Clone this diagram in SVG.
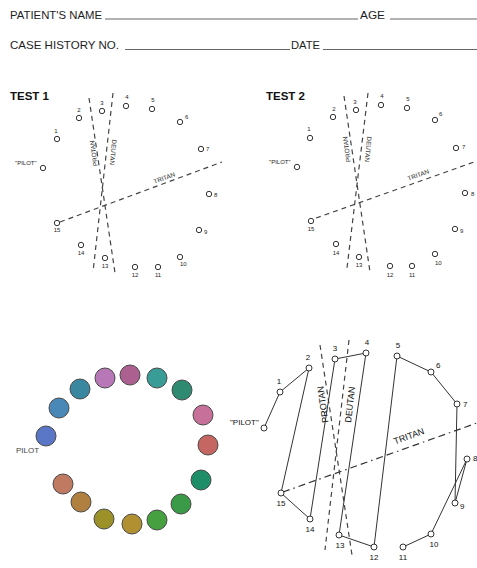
<svg xmlns="http://www.w3.org/2000/svg" width="477" height="568" viewBox="0 0 477 568">
  <style>
    text { font-family: "Liberation Sans", Arial, sans-serif; fill: #1e1e1e; }
    .hdr { font-size: 11.5px; }
    .rule { stroke: #555; stroke-width: 0.9; }
    .title { font-size: 11px; font-weight: bold; fill: #111; }
    .sm { font-size: 6px; text-anchor: middle; }
    .sml { font-size: 6px; }
    .axis { font-size: 6.3px; }
    .cap { stroke: #333; stroke-width: 1; fill: #fff; }
    .dash { stroke: #444; stroke-width: 1.2; fill: none; stroke-dasharray: 5 4; }
    .dashdot { stroke: #333; stroke-width: 1.2; fill: none; stroke-dasharray: 7 4 1.5 4 7 4; }
    .chip { stroke: #4a4a4a; stroke-width: 1; }
    .md { font-size: 8px; text-anchor: middle; fill: #111; }
    .mdl { font-size: 8px; fill: #111; }
    .path { stroke: #333; stroke-width: 1; fill: none; }
  </style>

  <!-- form header -->
  <g id="header">
    <text class="hdr" x="10" y="18.5" textLength="92" lengthAdjust="spacingAndGlyphs">PATIENT'S NAME</text>
    <line class="rule" x1="105" y1="19" x2="358" y2="19"/>
    <text class="hdr" x="360" y="18.5" textLength="25" lengthAdjust="spacingAndGlyphs">AGE</text>
    <line class="rule" x1="390" y1="19" x2="477" y2="19"/>
    <text class="hdr" x="10" y="49" textLength="109" lengthAdjust="spacingAndGlyphs">CASE HISTORY NO.</text>
    <line class="rule" x1="125" y1="49.5" x2="290" y2="49.5"/>
    <text class="hdr" x="291" y="49" textLength="29" lengthAdjust="spacingAndGlyphs">DATE</text>
    <line class="rule" x1="323" y1="49.5" x2="477" y2="49.5"/>
  </g>

  <!-- TEST 1 score sheet -->
  <g id="test1">
    <text class="title" x="10" y="100" textLength="39" lengthAdjust="spacingAndGlyphs">TEST 1</text>
    <g id="test1-axes">
      <line class="dash" x1="89" y1="98" x2="115" y2="273"/>
      <line class="dash" x1="113" y1="93" x2="93" y2="272"/>
      <line class="dash" x1="60" y1="222" x2="222" y2="162"/>
      <text class="axis" transform="translate(96,153) rotate(-98)" text-anchor="middle">PROTAN</text>
      <text class="axis" transform="translate(111,152) rotate(96)" text-anchor="middle">DEUTAN</text>
      <text class="axis" transform="translate(165,180) rotate(-20)" text-anchor="middle">TRITAN</text>
    </g>
    <g id="test1-caps">
      <circle class="cap" cx="43" cy="168" r="2.7"/>
      <circle class="cap" cx="57" cy="139" r="2.7"/>
      <circle class="cap" cx="79" cy="118" r="2.7"/>
      <circle class="cap" cx="102" cy="111" r="2.7"/>
      <circle class="cap" cx="126" cy="106" r="2.7"/>
      <circle class="cap" cx="152" cy="109" r="2.7"/>
      <circle class="cap" cx="180" cy="122" r="2.7"/>
      <circle class="cap" cx="201" cy="149" r="2.7"/>
      <circle class="cap" cx="209" cy="194" r="2.7"/>
      <circle class="cap" cx="199" cy="230" r="2.7"/>
      <circle class="cap" cx="180" cy="257" r="2.7"/>
      <circle class="cap" cx="158" cy="267" r="2.7"/>
      <circle class="cap" cx="135" cy="267" r="2.7"/>
      <circle class="cap" cx="105" cy="258" r="2.7"/>
      <circle class="cap" cx="81" cy="245" r="2.7"/>
      <circle class="cap" cx="57" cy="223" r="2.7"/>
    </g>
    <g id="test1-labels">
      <text class="sml" x="15" y="165">"PILOT"</text>
      <text class="sm" x="56" y="133">1</text>
      <text class="sm" x="79" y="112">2</text>
      <text class="sm" x="102" y="105">3</text>
      <text class="sm" x="127" y="99">4</text>
      <text class="sm" x="153" y="102">5</text>
      <text class="sml" x="185" y="119">6</text>
      <text class="sml" x="206" y="151">7</text>
      <text class="sml" x="214" y="197">8</text>
      <text class="sml" x="204" y="234">9</text>
      <text class="sml" x="180" y="266">10</text>
      <text class="sm" x="158" y="277">11</text>
      <text class="sm" x="135" y="277">12</text>
      <text class="sm" x="105" y="268">13</text>
      <text class="sm" x="81" y="255">14</text>
      <text class="sm" x="57" y="232">15</text>
    </g>
  </g>

  <!-- TEST 2 score sheet -->
  <g id="test2">
    <text class="title" x="266" y="100" textLength="39" lengthAdjust="spacingAndGlyphs">TEST 2</text>
    <g id="test2-axes">
      <line class="dash" x1="344" y1="96" x2="370" y2="272"/>
      <line class="dash" x1="368" y1="93" x2="347" y2="268"/>
      <line class="dash" x1="316" y1="218" x2="477" y2="161"/>
      <text class="axis" transform="translate(349,149) rotate(-98)" text-anchor="middle">PROTAN</text>
      <text class="axis" transform="translate(366,149) rotate(96)" text-anchor="middle">DEUTAN</text>
      <text class="axis" transform="translate(419,177) rotate(-20)" text-anchor="middle">TRITAN</text>
    </g>
    <g id="test2-caps">
      <circle class="cap" cx="297" cy="167" r="2.7"/>
      <circle class="cap" cx="310" cy="138" r="2.7"/>
      <circle class="cap" cx="333" cy="117" r="2.7"/>
      <circle class="cap" cx="356" cy="110" r="2.7"/>
      <circle class="cap" cx="381" cy="105" r="2.7"/>
      <circle class="cap" cx="407" cy="108" r="2.7"/>
      <circle class="cap" cx="435" cy="120" r="2.7"/>
      <circle class="cap" cx="456" cy="148" r="2.7"/>
      <circle class="cap" cx="465" cy="193" r="2.7"/>
      <circle class="cap" cx="455" cy="229" r="2.7"/>
      <circle class="cap" cx="435" cy="254" r="2.7"/>
      <circle class="cap" cx="412" cy="266" r="2.7"/>
      <circle class="cap" cx="390" cy="266" r="2.7"/>
      <circle class="cap" cx="359" cy="257" r="2.7"/>
      <circle class="cap" cx="336" cy="244" r="2.7"/>
      <circle class="cap" cx="311" cy="221" r="2.7"/>
    </g>
    <g id="test2-labels">
      <text class="sml" x="269" y="164">"PILOT"</text>
      <text class="sm" x="309" y="131">1</text>
      <text class="sm" x="334" y="111">2</text>
      <text class="sm" x="355" y="104">3</text>
      <text class="sm" x="382" y="98">4</text>
      <text class="sm" x="408" y="101">5</text>
      <text class="sml" x="439" y="116">6</text>
      <text class="sml" x="462" y="149">7</text>
      <text class="sml" x="471" y="196">8</text>
      <text class="sml" x="460" y="233">9</text>
      <text class="sml" x="435" y="265">10</text>
      <text class="sm" x="412" y="277">11</text>
      <text class="sm" x="390" y="277">12</text>
      <text class="sm" x="359" y="267">13</text>
      <text class="sm" x="336" y="255">14</text>
      <text class="sm" x="311" y="231">15</text>
    </g>
  </g>

  <!-- coloured cap ring -->
  <g id="cap-ring">
    <circle class="chip" cx="46" cy="436" r="10" fill="#5a76c6"/>
    <circle class="chip" cx="59" cy="408" r="10" fill="#4a88b8"/>
    <circle class="chip" cx="80" cy="389" r="10" fill="#3a88a0"/>
    <circle class="chip" cx="105" cy="378" r="10" fill="#b878b8"/>
    <circle class="chip" cx="130" cy="375" r="10" fill="#ac6090"/>
    <circle class="chip" cx="157" cy="378" r="10" fill="#3a9c96"/>
    <circle class="chip" cx="182" cy="390" r="10" fill="#2e8a70"/>
    <circle class="chip" cx="203" cy="415" r="10" fill="#c6709a"/>
    <circle class="chip" cx="208" cy="445" r="10" fill="#c66662"/>
    <circle class="chip" cx="201" cy="480" r="10" fill="#1e8e68"/>
    <circle class="chip" cx="181" cy="504" r="10" fill="#3a9a48"/>
    <circle class="chip" cx="157" cy="520" r="10" fill="#46a040"/>
    <circle class="chip" cx="132" cy="524" r="10" fill="#b09030"/>
    <circle class="chip" cx="104" cy="519" r="10" fill="#9c9028"/>
    <circle class="chip" cx="81" cy="502" r="10" fill="#b08040"/>
    <circle class="chip" cx="63" cy="484" r="10" fill="#c07a62"/>
    <text class="mdl" x="16" y="453" style="fill:#444">PILOT</text>
  </g>

  <!-- worked example of a scored arrangement -->
  <g id="example">
    <g id="example-axes">
      <line class="dash" x1="320" y1="345" x2="352" y2="555"/>
      <line class="dash" x1="349" y1="340" x2="325" y2="550"/>
      <line class="dashdot" x1="283" y1="492" x2="477" y2="423"/>
      <text class="mdl" transform="translate(326,404) rotate(-98)" text-anchor="middle" style="font-size:9px">PROTAN</text>
      <text class="mdl" transform="translate(353,405) rotate(-83.5)" text-anchor="middle" style="font-size:9px">DEUTAN</text>
      <text class="mdl" transform="translate(410,439) rotate(-20)" text-anchor="middle" style="font-size:9px">TRITAN</text>
    </g>
    <g id="connectors">
      <polyline class="path" points="264,428 280,392 309,368 281,493 310,519 335,359 366,353 339,535 374,547 397,356 431,372 457,404 455,503 467,459 431,534 403,547"/>
    </g>
    <g id="example-caps">
      <circle class="cap" cx="264" cy="428" r="3"/>
      <circle class="cap" cx="280" cy="392" r="3"/>
      <circle class="cap" cx="309" cy="368" r="3"/>
      <circle class="cap" cx="335" cy="359" r="3"/>
      <circle class="cap" cx="366" cy="353" r="3"/>
      <circle class="cap" cx="397" cy="356" r="3"/>
      <circle class="cap" cx="431" cy="372" r="3"/>
      <circle class="cap" cx="457" cy="404" r="3"/>
      <circle class="cap" cx="467" cy="459" r="3"/>
      <circle class="cap" cx="455" cy="503" r="3"/>
      <circle class="cap" cx="431" cy="534" r="3"/>
      <circle class="cap" cx="403" cy="547" r="3"/>
      <circle class="cap" cx="374" cy="547" r="3"/>
      <circle class="cap" cx="339" cy="535" r="3"/>
      <circle class="cap" cx="310" cy="519" r="3"/>
      <circle class="cap" cx="281" cy="493" r="3"/>
    </g>
    <g id="example-labels">
      <text class="mdl" x="230" y="425">"PILOT"</text>
      <text class="md" x="279" y="384">1</text>
      <text class="md" x="308" y="360">2</text>
      <text class="md" x="335" y="351">3</text>
      <text class="md" x="367" y="345">4</text>
      <text class="md" x="398" y="348">5</text>
      <text class="mdl" x="436" y="368">6</text>
      <text class="mdl" x="463" y="407">7</text>
      <text class="mdl" x="473" y="461">8</text>
      <text class="mdl" x="460" y="509">9</text>
      <text class="md" x="434" y="547">10</text>
      <text class="md" x="403" y="560">11</text>
      <text class="md" x="374" y="560">12</text>
      <text class="md" x="340" y="548">13</text>
      <text class="md" x="310" y="532">14</text>
      <text class="md" x="281" y="506">15</text>
    </g>
  </g>
</svg>
